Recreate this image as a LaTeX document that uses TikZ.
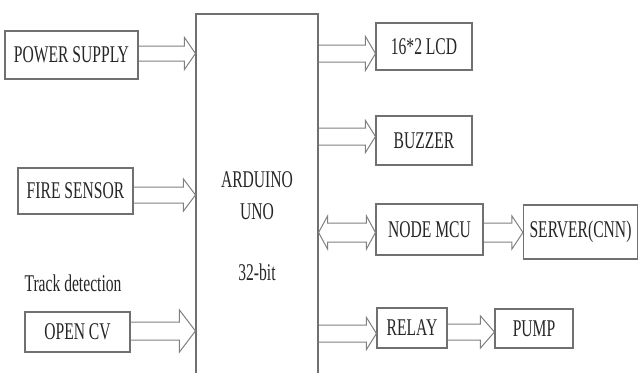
\documentclass[tikz,border=0pt]{standalone}
\usepackage{fontspec}
\setmainfont{Liberation Serif}[FakeStretch=0.65]
\usetikzlibrary{calc}
\definecolor{boxgray}{HTML}{707070}
\definecolor{linegray}{HTML}{808080}
\definecolor{txtgray}{HTML}{262626}
\tikzset{
  arwgap/.code={\def\ag{#1}}, arwlen/.code={\def\al{#1}}, arwhalf/.code={\def\ah{#1}},
  arwgap=8pt, arwlen=10pt, arwhalf=16pt,
  blk/.style={draw=boxgray, line width=1.1pt, rectangle, inner sep=0pt,
    font=\fontsize{24}{28}\selectfont, text=txtgray},
  lbl/.style={inner sep=0pt, font=\fontsize{24}{28}\selectfont, text=txtgray},
  arw/.style={draw=linegray, line width=1pt,
    to path={let \p1=(\tikztostart), \p2=(\tikztotarget) in
      (\x1,\y1+\ag) -- (\x2-\al,\y1+\ag) -- (\x2-\al,\y1+\ah) -- (\x2,\y1)
      -- (\x2-\al,\y1-\ah) -- (\x2-\al,\y1-\ag) -- (\x1,\y1-\ag)}},
  darw/.style={draw=linegray, line width=1pt,
    to path={let \p1=(\tikztostart), \p2=(\tikztotarget) in
      (\x1+\al,\y1+\ag) -- (\x2-\al,\y1+\ag) -- (\x2-\al,\y1+\ah) -- (\x2,\y1)
      -- (\x2-\al,\y1-\ah) -- (\x2-\al,\y1-\ag) -- (\x1+\al,\y1-\ag)
      -- (\x1+\al,\y1-\ah) -- (\x1,\y1) -- (\x1+\al,\y1+\ah) -- cycle}},
}
\begin{document}
\begin{tikzpicture}[x=1pt,y=-1pt]
\useasboundingbox[fill=white] (0,0) rectangle (639,372);
% left column
\node[blk, minimum width=133pt, minimum height=48pt] (ps) at (71.5,55) {POWER SUPPLY};
\node[blk, minimum width=115pt, minimum height=46pt] (fire) at (75.5,191) {FIRE SENSOR};
\node[lbl] (track) at (73,283) {Track detection};
\node[blk, minimum width=105pt, minimum height=40pt] (cv) at (77.5,332) {OPEN CV};
% controller
\node[blk, minimum width=122pt, minimum height=370pt] (ard) at (257,199) {};
\node[lbl] (ardA) at (257,180) {ARDUINO};
\node[lbl] (ardB) at (257,212) {UNO};
\node[lbl] (ardC) at (257,272) {32-bit};
% right column
\node[blk, minimum width=96pt, minimum height=47pt] (lcd) at (424,46.5) {16*2 LCD};
\node[blk, minimum width=96pt, minimum height=49pt] (buz) at (424,140.5) {BUZZER};
\node[blk, minimum width=107pt, minimum height=51pt] (mcu) at (429.5,229.5) {NODE MCU};
\node[blk, minimum width=114pt, minimum height=54pt] (srv) at (580.5,232) {SERVER(CNN)};
\node[blk, minimum width=70pt, minimum height=40pt] (relay) at (412,328) {RELAY};
\node[blk, minimum width=78pt, minimum height=39pt] (pump) at (534,328.5) {PUMP};
% connectors
\draw[arw, arwgap=7.5pt, arwlen=11pt, arwhalf=16pt] (ps.east |- 0,53.5) to (ard.west |- 0,53.5);
\draw[arw, arwgap=8pt, arwlen=12pt, arwhalf=16pt] (fire.east |- 0,195) to (ard.west |- 0,195);
\draw[arw, arwgap=9pt, arwlen=16pt, arwhalf=21pt] (cv.east |- 0,331) to (ard.west |- 0,331);
\draw[arw, arwgap=8.5pt, arwlen=10pt, arwhalf=17pt] (ard.east |- 0,53.5) to (lcd.west |- 0,53.5);
\draw[arw, arwgap=8.5pt, arwlen=10pt, arwhalf=16pt] (ard.east |- 0,136.5) to (buz.west |- 0,136.5);
\draw[darw, arwgap=9.5pt, arwlen=9pt, arwhalf=16.5pt] (ard.east |- 0,232.5) to (mcu.west |- 0,232.5);
\draw[arw, arwgap=9.5pt, arwlen=11pt, arwhalf=16.5pt] (mcu.east |- 0,232.5) to (srv.west |- 0,232.5);
\draw[arw, arwgap=8.5pt, arwlen=10pt, arwhalf=16pt] (ard.east |- 0,333.5) to (relay.west |- 0,333.5);
\draw[arw, arwgap=8pt, arwlen=14pt, arwhalf=16pt] (relay.east |- 0,332) to (pump.west |- 0,332);
\end{tikzpicture}
\end{document}
